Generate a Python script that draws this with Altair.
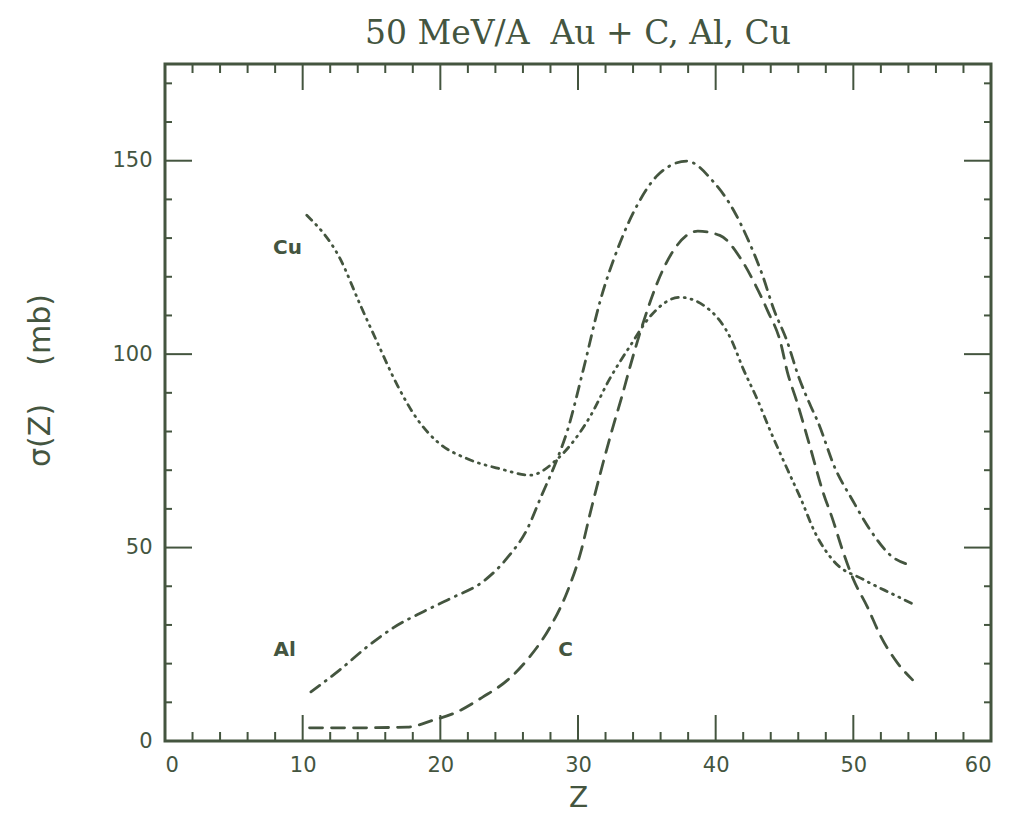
import altair as alt
import pandas as pd

# ---- data ----
cu_z = [10.3, 12.7, 14.2, 15.4, 16.9, 18.3, 19.8, 22.0, 24.4, 26.5, 28.5, 30.9, 32.3, 33.8, 35.3, 37.4,
        39.6, 41.1, 42.0, 43.0, 44.0, 45.2, 46.2, 47.2, 48.6, 50.7, 52.9, 54.4]
cu_s = [135.9, 124.8, 112.6, 103.2, 91.8, 83.3, 77.3, 72.9, 70.3, 68.7, 72.9, 84.0, 93.6, 102.2, 110.0, 114.7,
        111.3, 104.0, 96.2, 88.5, 79.9, 70.3, 62.5, 54.0, 46.4, 41.8, 37.9, 35.3]

al_z = [10.6, 12.7, 14.7, 16.6, 18.8, 20.9, 23.1, 24.9, 26.3, 27.3, 28.5, 29.2, 30.4, 31.6, 32.9, 34.3, 35.8,
        37.9, 39.8, 41.3, 42.4, 43.4, 44.2, 45.2, 46.0, 46.9, 47.4, 48.7, 49.9, 51.2, 52.8, 53.9]
al_s = [12.7, 18.4, 24.4, 29.3, 33.5, 37.1, 41.2, 47.5, 54.7, 63.0, 73.0, 79.9, 96.2, 113.6, 127.4, 138.5, 146.3,
        149.9, 144.7, 137.2, 129.2, 120.4, 111.8, 103.2, 94.4, 86.6, 82.7, 70.3, 62.5, 54.7, 47.7, 45.7]

c_z = [10.5, 13.4, 17.6, 19.5, 21.2, 23.1, 24.9, 26.5, 28.0, 29.2, 30.2, 30.9, 32.5, 33.2, 33.8, 35.0, 35.8,
       36.9, 38.7, 40.3, 41.8, 42.9, 43.8, 44.7, 45.2, 45.9, 46.9, 47.8, 48.5, 49.2, 50.0, 51.0, 52.0, 53.2, 54.3]
c_s = [3.4, 3.4, 3.6, 5.4, 7.5, 11.4, 15.8, 21.8, 29.6, 38.4, 48.8, 59.1, 80.7, 89.2, 97.0, 111.0, 118.8,
       126.6, 131.8, 130.7, 124.8, 117.8, 111.0, 103.2, 95.5, 87.7, 75.5, 64.3, 57.3, 49.5, 41.8, 34.8, 27.0, 20.2, 15.8]

label_names = ["Cu", "Al", "C"]
label_z = [8.9, 8.7, 29.1]
label_s = [127.4, 23.6, 23.6]

x_major = [0, 10, 20, 30, 40, 50, 60]
x_minor = [v for v in range(2, 60, 2) if v % 10 != 0]
y_major = [0, 50, 100, 150]
y_minor = [v for v in range(10, 180, 10) if v % 50 != 0]

# ---- style ----
INK = "#44553f"
W, H = 826, 677
FONT = "DejaVu Sans"

xs = alt.Scale(domain=[0, 60], nice=False, zero=False)
ys = alt.Scale(domain=[0, 175], nice=False, zero=False)

def series_df(z, s):
    return pd.DataFrame({"Z": z, "sigma": s})

x_enc = alt.X("Z:Q", scale=xs,
              axis=alt.Axis(values=x_major, ticks=False, domain=False, grid=False,
                            labelFont=FONT, labelFontSize=21, labelColor=INK, labelPadding=13,
                            title="Z", titleFont=FONT, titleFontSize=28, titleFontWeight="normal",
                            titleColor=INK, titlePadding=9))
y_enc = alt.Y("sigma:Q", scale=ys,
              axis=alt.Axis(values=y_major, ticks=False, domain=False, grid=False,
                            labelFont=FONT, labelFontSize=21, labelColor=INK, labelPadding=13,
                            title="σ(Z)\u00a0\u00a0\u00a0\u00a0(mb)", titleFont=FONT, titleFontSize=30,
                            titleFontWeight="normal", titleColor=INK, titleBaseline="middle",
                            titleAngle=270, titleX=-125, titleY=316))

def curve(z, s, dash):
    return alt.Chart(series_df(z, s)).mark_line(
        color=INK, strokeWidth=2.8, strokeDash=dash, interpolate="monotone", strokeCap="round"
    ).encode(x=x_enc, y=y_enc)

cu = curve(cu_z, cu_s, [7, 6, 1, 6, 1, 6])
al = curve(al_z, al_s, [11, 7, 1, 7])
c = curve(c_z, c_s, [13, 9])

labels = alt.Chart(pd.DataFrame({"Z": label_z, "sigma": label_s, "name": label_names})).mark_text(
    font=FONT, fontSize=20, color=INK, fontWeight="bold"
).encode(x=alt.X("Z:Q", scale=xs), y=alt.Y("sigma:Q", scale=ys), text="name:N")

def xticks(vals, length, top):
    df = pd.DataFrame({"Z": vals})
    if top:
        yy, yy2 = alt.value(0), alt.value(length)
    else:
        yy, yy2 = alt.value(H), alt.value(H - length)
    return alt.Chart(df).mark_rule(color=INK, strokeWidth=2).encode(
        x=alt.X("Z:Q", scale=xs), y=yy, y2=yy2)

def yticks(vals, length, right):
    df = pd.DataFrame({"sigma": vals})
    if right:
        xx, xx2 = alt.value(W), alt.value(W - length)
    else:
        xx, xx2 = alt.value(0), alt.value(length)
    return alt.Chart(df).mark_rule(color=INK, strokeWidth=2).encode(
        y=alt.Y("sigma:Q", scale=ys), x=xx, x2=xx2)

tick_layers = [
    xticks(x_major, 26, False), xticks(x_major, 26, True),
    xticks(x_minor, 9, False), xticks(x_minor, 9, True),
    yticks(y_major, 27, False), yticks(y_major, 27, True),
    yticks(y_minor, 7, False), yticks(y_minor, 7, True),
]

chart = alt.layer(c, al, cu, labels, *tick_layers).properties(
    width=W, height=H,
    autosize=alt.AutoSizeParams(type="none"),
    padding={"left": 157, "top": 56, "right": 10, "bottom": 72},
    background="white",
    title=alt.TitleParams("50 MeV/A\u00a0\u00a0Au + C, Al, Cu", font="DejaVu Serif", fontSize=33,
                          fontWeight="normal", color=INK, offset=12, anchor="middle"),
).configure_view(
    stroke=INK, strokeWidth=3
)

chart.save("out.html", embed_options={"renderer": "svg", "actions": False})
